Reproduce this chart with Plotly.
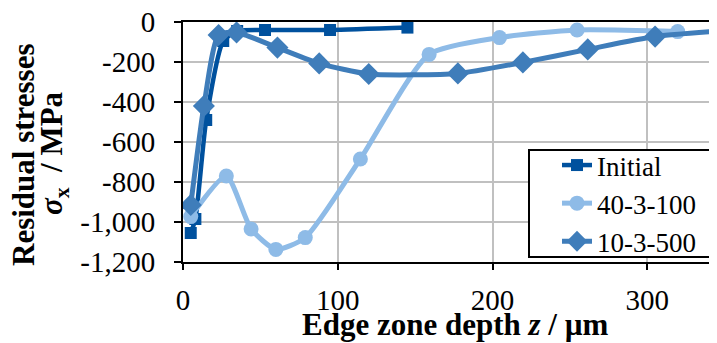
import plotly.graph_objects as go

# ---- data ----
init_x = [5, 8, 15, 26, 35, 53, 95, 145]
init_y = [-1055, -985, -490, -95, -45, -40, -40, -28]

a_x = [5, 28, 44, 60, 79, 114.6, 159, 204.5, 254.6, 319.6]
a_y = [-973, -770, -1035, -1137, -1078, -685, -162, -78, -40, -48]

b_x = [5, 13.5, 23, 34.6, 61, 88, 120, 177.6, 219.6, 261.5, 305, 360]
b_y = [-915, -420, -65, -52, -128, -207, -260, -257, -202, -137, -73, -38]

y_ticks = [0, -200, -400, -600, -800, -1000, -1200]
y_ticktext = ["0", "-200", "-400", "-600", "-800", "-1,000", "-1,200"]
x_ticks = [0, 100, 200, 300]
x_ticktext = ["0", "100", "200", "300"]

C_INIT = "#00519e"
C_A = "#8ebbe7"
C_B = "#3f7dba"
FONT = "Liberation Serif"

OFF = 8  # page body margin
W, H = 717 - OFF, 343 - OFF
L, R, T = 183 - OFF, 0, 22 - OFF
B = H - (262 - OFF)
pw, ph = W - L - R, H - T - B

fig = go.Figure()
fig.add_trace(go.Scatter(x=init_x, y=init_y, name="Initial", mode="lines+markers",
                         line=dict(color=C_INIT, width=4.5, shape="spline", smoothing=0.6),
                         marker=dict(symbol="square", size=12, color=C_INIT)))
fig.add_trace(go.Scatter(x=a_x, y=a_y, name="40-3-100", mode="lines+markers",
                         line=dict(color=C_A, width=5, shape="spline", smoothing=0.6),
                         marker=dict(symbol="circle", size=15, color=C_A)))
fig.add_trace(go.Scatter(x=b_x, y=b_y, name="10-3-500", mode="lines+markers",
                         line=dict(color=C_B, width=5, shape="spline", smoothing=0.6),
                         marker=dict(symbol="diamond", size=17, color=C_B)))

def px_x(p):
    return (p - OFF - L) / pw

def px_y(p):
    return (H - B - (p - OFF)) / ph

# legend frame (extends past the right edge as in the reference)
fig.add_shape(type="rect", xref="paper", yref="paper", layer="above",
              x0=px_x(529), x1=px_x(740), y0=px_y(257), y1=px_y(150),
              line=dict(color="black", width=2), fillcolor="white")

fig.update_layout(
    template="none",
    width=W, height=H,
    margin=dict(l=L, r=R, t=T, b=B, autoexpand=False),
    plot_bgcolor="white", paper_bgcolor="white",
    font=dict(family=FONT, size=28, color="black"),
    showlegend=True,
    legend=dict(x=px_x(557), y=px_y(141), xanchor="left", yanchor="top",
                bgcolor="rgba(0,0,0,0)", borderwidth=0,
                font=dict(family=FONT, size=27, color="black"), tracegroupgap=0),
    xaxis=dict(range=[0, 345], tickvals=x_ticks, ticktext=x_ticktext,
               showgrid=True, gridcolor="#c0c0c0", gridwidth=1.5,
               showline=True, linecolor="black", linewidth=2, mirror=True,
               ticks="outside", ticklen=6, tickwidth=2, tickcolor="black",
               ticklabelstandoff=5, zeroline=False, ticklabeloverflow="allow",
               tickfont=dict(family=FONT, size=29, color="black")),
    yaxis=dict(range=[-1200, 0], tickvals=y_ticks, ticktext=y_ticktext,
               showgrid=True, gridcolor="#c0c0c0", gridwidth=1.5,
               showline=True, linecolor="black", linewidth=2,
               ticks="outside", ticklen=7, tickwidth=2, tickcolor="black",
               ticklabelstandoff=13, zeroline=False, ticklabeloverflow="allow",
               tickfont=dict(family=FONT, size=29, color="black")),
)

fig.add_annotation(text="<b>Residual stresses</b>", xref="paper", yref="paper",
                   x=px_x(23), y=px_y(155), textangle=-90, showarrow=False,
                   xanchor="center", yanchor="middle",
                   font=dict(family=FONT, size=31, color="black"))
fig.add_annotation(text="<b><i>σ</i><sub>x</sub>  / MPa</b>", xref="paper", yref="paper",
                   x=px_x(54), y=px_y(153), textangle=-90, showarrow=False,
                   xanchor="center", yanchor="middle",
                   font=dict(family=FONT, size=31, color="black"))
fig.add_annotation(text="<b>Edge zone depth <i>z</i> / µm</b>", xref="paper", yref="paper",
                   x=px_x(455), y=px_y(324), showarrow=False,
                   xanchor="center", yanchor="middle",
                   font=dict(family=FONT, size=31, color="black"))

fig.write_html("out.html")
